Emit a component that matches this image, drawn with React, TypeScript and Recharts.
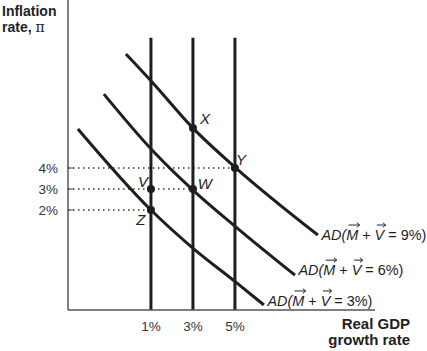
import React from "react";
import {
  ComposedChart,
  Line,
  Scatter,
  XAxis,
  YAxis,
  ReferenceLine,
  LabelList,
} from "recharts";

// growth (x) / inflation (y)
const ad9Growth = [-0.19, 1.05, 3, 5.05, 8.95];
const ad9Inflation = [9.43, 8.1, 5.9, 4, 0.81];
const ad6Growth = [-1.24, 1.05, 3, 5.05, 7.86];
const ad6Inflation = [7.52, 4.86, 2.95, 1.19, -1.1];
const ad3Growth = [-2.48, 1, 3.05, 5.1, 6.38];
const ad3Inflation = [5.86, 2, 0.14, -1.48, -2.52];

const lrasGrowth = [1, 3, 5];
const lrasTop = 10.2;

const inflationTicks = [2, 3, 4];
const inflationTickLabels = ["2%", "3%", "4%"];
const growthTickLabels = ["1%", "3%", "5%"];
// dotted guides: inflation level -> where it stops on the growth axis
const guideInflation = [4, 3, 2];
const guideGrowth = [5, 3, 1];

const pointNames = ["X", "Y", "V", "W", "Z"];
const pointGrowth = [3, 5, 1, 3, 1];
const pointInflation = [5.9, 4, 3, 3, 2];

const adRates = ["9%", "6%", "3%"];

const X_MIN = -2.95;
const X_MAX = 11.67;
const Y_MIN = -2.76;
const Y_MAX = 12;

const FONT = "'Liberation Sans', Arial, Helvetica, sans-serif";
const INK = "#1e1e1e";

// label offsets for the point letters
const pointLabelOffset: Record<string, [number, number]> = {
  X: [12, -4],
  Y: [6, -3],
  V: [-8, -2],
  W: [12, 0],
  Z: [-10, 15],
};
// baseline offset of the AD labels from the curve end
const adLabelDy: Record<string, number> = { "9%": 5, "6%": 0, "3%": 1 };

const toRows = (gs: number[], ps: number[]) =>
  gs.map((g, i) => ({ g, pi: ps[i] }));

const curves = [
  { rate: adRates[0], data: toRows(ad9Growth, ad9Inflation) },
  { rate: adRates[1], data: toRows(ad6Growth, ad6Inflation) },
  { rate: adRates[2], data: toRows(ad3Growth, ad3Inflation) },
];

const points = pointNames.map((name, i) => ({
  name,
  g: pointGrowth[i],
  pi: pointInflation[i],
}));

function Arrow({ x1, x2, y }: { x1: number; x2: number; y: number }) {
  return (
    <g stroke={INK} strokeWidth={1} fill="none">
      <line x1={x1} y1={y} x2={x2} y2={y} />
      <path d={`M${x2 - 3},${y - 2.2} L${x2},${y} L${x2 - 3},${y + 2.2}`} />
    </g>
  );
}

function ADLabel({ x, y, rate }: { x: number; y: number; rate: string }) {
  const fs = 15.5;
  const k = fs / 1000;
  // Arial advance widths
  const mStart = (667 + 722 + 333) * k;
  const mEnd = mStart + 833 * k;
  const vStart = mEnd + (278 + 584 + 278) * k;
  const vEnd = vStart + 667 * k;
  const arrowY = -fs + 0.5;
  const base = y + (adLabelDy[rate] ?? 0);
  return (
    <g
      transform={`translate(${x + 3.5},${base}) scale(0.93,1)`}
      fontFamily={FONT}
      fontSize={fs}
      fill={INK}
    >
      <text x={0} y={0}>
        <tspan fontStyle="italic">AD(</tspan>
        <tspan fontStyle="italic">M</tspan>
        <tspan> + </tspan>
        <tspan fontStyle="italic">V</tspan>
        <tspan>{` = ${rate})`}</tspan>
      </text>
      <Arrow x1={mStart + 2.5} x2={mEnd + 1.5} y={arrowY} />
      <Arrow x1={vStart + 2.5} x2={vEnd + 1.5} y={arrowY} />
    </g>
  );
}

function YTick(props: any) {
  const { x, y, payload } = props;
  const axisX = x + 10;
  return (
    <g>
      <line x1={axisX} y1={y} x2={axisX + 5} y2={y} stroke="#444" strokeWidth={1} />
      <text
        x={x}
        y={y}
        dy={5}
        textAnchor="end"
        fontFamily={FONT}
        fontSize={13.5}
        fill="#333"
      >
        {inflationTickLabels[inflationTicks.indexOf(payload.value)]}
      </text>
    </g>
  );
}

export default function App() {
  return (
    <div
      style={{
        position: "absolute",
        left: 0,
        top: 0,
        width: 427,
        height: 351,
        background: "#fff",
        fontFamily: FONT,
      }}
    >
      <ComposedChart
        width={427}
        height={351}
        margin={{ top: 0, right: 52, bottom: 0, left: 0 }}
      >
        <XAxis
          type="number"
          dataKey="g"
          domain={[X_MIN, X_MAX]}
          allowDataOverflow
          ticks={lrasGrowth}
          interval={0}
          tickFormatter={(v: number) => growthTickLabels[lrasGrowth.indexOf(v)]}
          height={41}
          tickSize={0}
          tickMargin={11}
          tickLine={false}
          axisLine={{ stroke: "#555", strokeWidth: 1.5 }}
          tick={{ fill: "#333", fontSize: 13.5, fontFamily: FONT }}
        />
        <YAxis
          type="number"
          dataKey="pi"
          domain={[Y_MIN, Y_MAX]}
          allowDataOverflow
          ticks={inflationTicks}
          interval={0}
          width={68}
          tickSize={0}
          tickMargin={10}
          tickLine={false}
          axisLine={{ stroke: "#555", strokeWidth: 1.5 }}
          tick={<YTick />}
        />

        {guideInflation.map((p, i) => (
          <ReferenceLine
            key={`guide-${p}`}
            segment={[
              { x: X_MIN, y: p },
              { x: guideGrowth[i], y: p },
            ]}
            stroke="#333"
            strokeWidth={1.5}
            strokeDasharray="1.5 3.5"
            ifOverflow="visible"
          />
        ))}

        {lrasGrowth.map((g) => (
          <ReferenceLine
            key={`lras-${g}`}
            segment={[
              { x: g, y: Y_MIN },
              { x: g, y: lrasTop },
            ]}
            stroke={INK}
            strokeWidth={3}
            ifOverflow="visible"
          />
        ))}

        {curves.map((c) => (
          <Line
            key={c.rate}
            data={c.data}
            dataKey="pi"
            type="monotone"
            stroke={INK}
            strokeWidth={3}
            dot={false}
            isAnimationActive={false}
          >
            <LabelList
              dataKey="pi"
              content={(p: any) =>
                p.index === c.data.length - 1 ? (
                  <ADLabel x={p.x} y={p.y} rate={c.rate} />
                ) : null
              }
            />
          </Line>
        ))}

        <Scatter
          data={points}
          dataKey="pi"
          isAnimationActive={false}
          shape={(p: any) => <circle cx={p.cx} cy={p.cy} r={4} fill={INK} />}
        >
          <LabelList
            dataKey="name"
            content={(p: any) => {
              const [dx, dy] = pointLabelOffset[p.value] || [0, 0];
              return (
                <text
                  x={p.x + p.width / 2 + dx}
                  y={p.y + p.height / 2 + dy}
                  textAnchor="middle"
                  fontFamily={FONT}
                  fontSize={15}
                  fontStyle="italic"
                  fill={INK}
                >
                  {p.value}
                </text>
              );
            }}
          />
        </Scatter>
      </ComposedChart>

      <div
        style={{
          position: "absolute",
          left: 2,
          top: 3,
          fontSize: 14,
          fontWeight: "bold",
          lineHeight: "16px",
          color: "#222",
        }}
      >
        Inflation
        <br />
        rate,{" "}
        <span style={{ fontWeight: "normal", fontFamily: "'DejaVu Serif', serif" }}>
          π
        </span>
      </div>
      <div
        style={{
          position: "absolute",
          right: 17,
          top: 316,
          fontSize: 15,
          fontWeight: "bold",
          lineHeight: "16px",
          textAlign: "right",
          color: "#222",
        }}
      >
        Real GDP
        <br />
        growth rate
      </div>
    </div>
  );
}
